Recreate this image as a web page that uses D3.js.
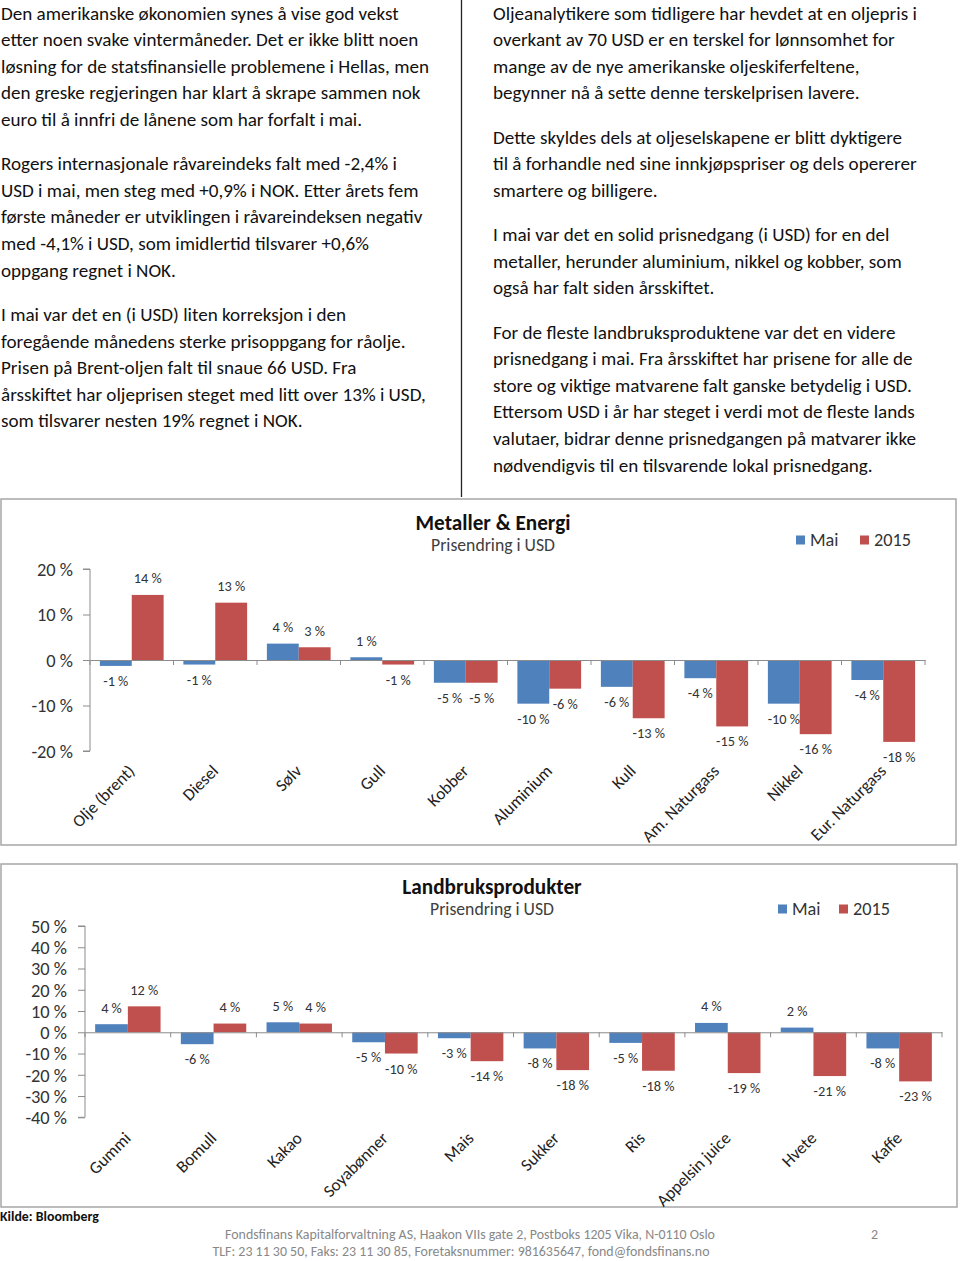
<!DOCTYPE html>
<html><head><meta charset="utf-8">
<script src="https://cdn.jsdelivr.net/npm/d3@7/dist/d3.min.js"></script>
<style>
html,body{margin:0;padding:0;background:#fff;}
svg{display:block;}
</style></head>
<body>
<svg id="page" width="960" height="1261"></svg>
<script>
// ---------- DATA ----------
const leftText = [
  ["Den amerikanske økonomien synes å vise god vekst",
   "etter noen svake vintermåneder. Det er ikke blitt noen",
   "løsning for de statsfinansielle problemene i Hellas, men",
   "den greske regjeringen har klart å skrape sammen nok",
   "euro til å innfri de lånene som har forfalt i mai."],
  ["Rogers internasjonale råvareindeks falt med -2,4% i",
   "USD i mai, men steg med +0,9% i NOK. Etter årets fem",
   "første måneder er utviklingen i råvareindeksen negativ",
   "med -4,1% i USD, som imidlertid tilsvarer +0,6%",
   "oppgang regnet i NOK."],
  ["I mai var det en (i USD) liten korreksjon i den",
   "foregående månedens sterke prisoppgang for råolje.",
   "Prisen på Brent-oljen falt til snaue 66 USD. Fra",
   "årsskiftet har oljeprisen steget med litt over 13% i USD,",
   "som tilsvarer nesten 19% regnet i NOK."]
];
const rightText = [
  ["Oljeanalytikere som tidligere har hevdet at en oljepris i",
   "overkant av 70 USD er en terskel for lønnsomhet for",
   "mange av de nye amerikanske oljeskiferfeltene,",
   "begynner nå å sette denne terskelprisen lavere."],
  ["Dette skyldes dels at oljeselskapene er blitt dyktigere",
   "til å forhandle ned sine innkjøpspriser og dels opererer",
   "smartere og billigere."],
  ["I mai var det en solid prisnedgang (i USD) for en del",
   "metaller, herunder aluminium, nikkel og kobber, som",
   "også har falt siden årsskiftet."],
  ["For de fleste landbruksproduktene var det en videre",
   "prisnedgang i mai. Fra årsskiftet har prisene for alle de",
   "store og viktige matvarene falt ganske betydelig i USD.",
   "Ettersom USD i år har steget i verdi mot de fleste lands",
   "valutaer, bidrar denne prisnedgangen på matvarer ikke",
   "nødvendigvis til en tilsvarende lokal prisnedgang."]
];

const seriesNames = ["Mai", "2015"];

const metalCategories = ["Olje (brent)","Diesel","Sølv","Gull","Kobber","Aluminium","Kull","Am. Naturgass","Nikkel","Eur. Naturgass"];
const metalMai  = [-1.3, -1.0, 3.6, 0.6, -5.0, -9.6, -5.9, -4.0, -9.6, -4.4];
const metal2015 = [14.3, 12.6, 2.8, -1.0, -5.0, -6.3, -12.8, -14.6, -16.3, -18.0];
const metalTicks = [-20, -10, 0, 10, 20];

const agriCategories = ["Gummi","Bomull","Kakao","Soyabønner","Mais","Sukker","Ris","Appelsin juice","Hvete","Kaffe"];
const agriMai  = [3.8, -5.6, 4.7, -4.7, -2.8, -7.6, -5.0, 4.4, 2.2, -7.6];
const agri2015 = [12.2, 4.1, 4.1, -10.0, -13.6, -17.8, -18.1, -19.2, -20.6, -23.1];
const agriTicks = [-40, -30, -20, -10, 0, 10, 20, 30, 40, 50];

const footerSource = "Kilde: Bloomberg";
const footerLines = ["Fondsfinans Kapitalforvaltning AS, Haakon VIIs gate 2, Postboks 1205 Vika, N-0110 Oslo",
                     "TLF: 23 11 30 50, Faks: 23 11 30 85, Foretaksnummer: 981635647, fond@fondsfinans.no"];
const pageNumber = "2";

// ---------- STYLE ----------
const FONT = "Carlito, Calibri, Lato, 'Open Sans', sans-serif";
const BLUE = "#4f81bd", RED = "#c0504d";
const svg = d3.select("#page");

function fit(text, weight, target) {
  const t = svg.append("text").attr("font-family", FONT).attr("font-weight", weight)
    .attr("font-size", 100).text(text);
  const w = t.node().getComputedTextLength();
  t.remove();
  return 100 * target / w;
}

// ---------- BODY TEXT ----------
const bodySize = fit(leftText[0][0], "normal", 398);
function drawColumn(paras, x, firstBaseline) {
  let y = firstBaseline;
  const g = svg.append("g").attr("font-family", FONT).attr("font-size", bodySize).attr("fill", "#111");
  paras.forEach((p, pi) => {
    if (pi > 0) y += 17.7;
    p.forEach(line => {
      g.append("text").attr("x", x).attr("y", y).text(line);
      y += 26.6;
    });
  });
}
drawColumn(leftText, 1, 19.5);
drawColumn(rightText, 493, 19.5);
svg.append("line").attr("x1", 461.5).attr("x2", 461.5).attr("y1", 0).attr("y2", 497)
  .attr("stroke", "#222").attr("stroke-width", 1.3);

// ---------- CHARTS ----------
const tickSize = fit("20 %", "normal", 36);
const catSize = fit("Olje (brent)", "normal", 80);
const lblSize = fit("14 %", "normal", 28);
const titleSize = fit("Metaller & Energi", "bold", 155);
const subSize = fit("Prisendring i USD", "normal", 124);
const legSize = fit("2015", "normal", 37);

function drawChart(cfg) {
  const g = svg.append("g").attr("font-family", FONT);
  g.append("rect").attr("x", cfg.frame[0]).attr("y", cfg.frame[1])
    .attr("width", cfg.frame[2]).attr("height", cfg.frame[3])
    .attr("fill", "#fff").attr("stroke", "#a6a6a6").attr("stroke-width", 1.5);

  const x = d3.scaleBand().domain(cfg.cats).range([cfg.x0, cfg.x1]).paddingInner(0).paddingOuter(0);
  const xs = d3.scaleBand().domain(seriesNames).range([0, x.bandwidth()]).paddingOuter(0.31).paddingInner(0);
  const y = d3.scaleLinear().domain(cfg.domain).range([cfg.yBot, cfg.yTop]);

  const rows = cfg.cats.map((c, i) => ({cat: c, vals: [cfg.mai[i], cfg.y2015[i]]}));

  // bars
  const grp = g.selectAll("g.cat").data(rows).join("g").attr("class", "cat")
    .attr("transform", d => `translate(${x(d.cat)},0)`);
  grp.selectAll("rect").data(d => d.vals.map((v, k) => ({v, k}))).join("rect")
    .attr("x", d => xs(seriesNames[d.k]))
    .attr("width", xs.bandwidth())
    .attr("y", d => y(Math.max(0, d.v)))
    .attr("height", d => Math.abs(y(d.v) - y(0)))
    .attr("fill", d => d.k === 0 ? BLUE : RED);
  grp.selectAll("text").data(d => d.vals.map((v, k) => ({v, k}))).join("text")
    .attr("x", d => xs(seriesNames[d.k]) + xs.bandwidth() / 2)
    .attr("y", d => d.v >= 0 ? y(d.v) - 11.5 : y(d.v) + 20)
    .attr("text-anchor", "middle").attr("font-size", lblSize).attr("fill", "#333")
    .text(d => `${Math.round(d.v)} %`);

  // y axis
  const ya = d3.axisLeft(y).tickValues(cfg.ticks).tickSize(7).tickPadding(10)
    .tickFormat(d => `${d} %`);
  const yg = g.append("g").attr("transform", `translate(${cfg.x0},0)`).call(ya);
  yg.select(".domain").attr("stroke", "#8c8c8c").attr("d", `M-7,${cfg.yTop}H0V${cfg.yBot}H-7`);
  yg.selectAll(".tick line").attr("stroke", "#8c8c8c");
  yg.selectAll(".tick text").attr("font-family", FONT).attr("font-size", tickSize).attr("fill", "#333")
    .attr("dy", "0.34em").attr("x", -cfg.tickGap);

  // x axis at zero
  const xa = d3.axisBottom(x).tickSize(0).tickFormat("");
  const xg = g.append("g").attr("transform", `translate(0,${y(0)})`).call(xa);
  xg.select(".domain").attr("stroke", "#8c8c8c");
  const bounds = d3.range(cfg.cats.length + 1).map(i => cfg.x0 + i * x.bandwidth());
  xg.selectAll("line.bt").data(bounds).join("line").attr("class", "bt")
    .attr("x1", d => d).attr("x2", d => d).attr("y1", 0).attr("y2", 5).attr("stroke", "#8c8c8c");

  // category labels
  g.selectAll("text.cat").data(cfg.cats).join("text").attr("class", "cat")
    .attr("transform", d => `translate(${x(d) + x.bandwidth() / 2 + 4},${cfg.yBot + cfg.catOff}) rotate(-45)`)
    .attr("text-anchor", "end").attr("font-size", catSize).attr("fill", "#222").text(d => d);

  // title
  g.append("text").attr("x", cfg.titleX).attr("y", cfg.titleY).attr("text-anchor", "middle")
    .attr("font-weight", "bold").attr("font-size", titleSize).attr("fill", "#111").text(cfg.title);
  g.append("text").attr("x", cfg.titleX).attr("y", cfg.titleY + 21).attr("text-anchor", "middle")
    .attr("font-size", subSize).attr("fill", "#404040").text("Prisendring i USD");

  // legend
  const lg = g.append("g");
  seriesNames.forEach((s, k) => {
    const lx = cfg.legX[k];
    lg.append("rect").attr("x", lx).attr("y", cfg.legY - 4.5).attr("width", 9).attr("height", 9)
      .attr("fill", k === 0 ? BLUE : RED);
    lg.append("text").attr("x", lx + 14).attr("y", cfg.legY + 5.5).attr("font-size", legSize)
      .attr("fill", "#333").text(s);
  });
}

drawChart({
  frame: [1, 499, 955, 346], cats: metalCategories, mai: metalMai, y2015: metal2015,
  x0: 90, x1: 925, yTop: 569, yBot: 751, domain: [-20, 20], ticks: metalTicks, tickGap: 17,
  catOff: 21, title: "Metaller & Energi", titleX: 493, titleY: 530, legX: [796, 860], legY: 540
});
drawChart({
  frame: [1, 864, 956, 343], cats: agriCategories, mai: agriMai, y2015: agri2015,
  x0: 85, x1: 942, yTop: 926, yBot: 1117.3, domain: [-40, 50], ticks: agriTicks, tickGap: 18,
  catOff: 22, title: "Landbruksprodukter", titleX: 492, titleY: 894, legX: [778, 839], legY: 909
});

// ---------- FOOTER ----------
const srcSize = fit(footerSource, "bold", 99);
svg.append("text").attr("x", 0).attr("y", 1221).attr("font-family", FONT).attr("font-weight", "bold")
  .attr("font-size", srcSize).attr("fill", "#111").text(footerSource);
const footSize = fit(footerLines[0], "normal", 490);
footerLines.forEach((l, i) => {
  svg.append("text").attr("x", i === 0 ? 470 : 461).attr("y", 1238.5 + i * 17).attr("text-anchor", "middle")
    .attr("font-family", FONT).attr("font-size", footSize).attr("fill", "#888").text(l);
});
svg.append("text").attr("x", 871).attr("y", 1238.5).attr("font-family", FONT).attr("font-size", footSize)
  .attr("fill", "#888").text(pageNumber);
</script>
</body></html>
